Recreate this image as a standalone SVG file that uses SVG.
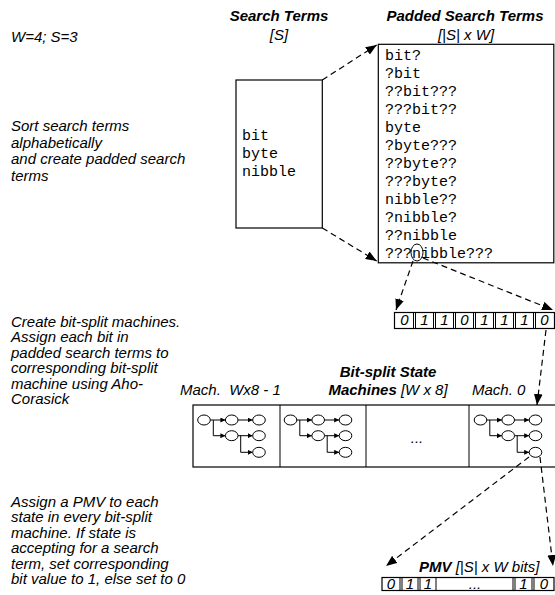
<svg xmlns="http://www.w3.org/2000/svg" width="555" height="595" viewBox="0 0 555 595">
<defs>
<style>
.t{font-family:"Liberation Sans",Arial,sans-serif;font-style:italic;font-size:15px;fill:#000}
.b{font-weight:bold}
.m{font-family:"Liberation Mono","Courier New",monospace;font-size:15px;fill:#000}
.box{fill:#fff;stroke:#000;stroke-width:1.2}
.dash{fill:none;stroke:#000;stroke-width:1.2;stroke-dasharray:6,4}
.st{fill:#fff;stroke:#000;stroke-width:1}
.ln{fill:none;stroke:#000;stroke-width:1}
</style>
<marker id="ah" viewBox="0 0 10 8" refX="10" refY="4" markerWidth="11" markerHeight="9" markerUnits="userSpaceOnUse" orient="auto"><path d="M0,0 L10,4 L0,8 z" fill="#000"/></marker>
<marker id="sa" viewBox="0 0 6 6" refX="6" refY="3" markerWidth="5" markerHeight="5" markerUnits="userSpaceOnUse" orient="auto"><path d="M0,0 L6,3 L0,6 z" fill="#000"/></marker>
<g id="fsm">
<path class="ln" d="M210.3,420 H225.4" marker-end="url(#sa)"/>
<path class="ln" d="M213.3,420 V435.7 H225.4" marker-end="url(#sa)"/>
<path class="ln" d="M238,420 H252.7" marker-end="url(#sa)"/>
<path class="ln" d="M238,435.7 H252.7" marker-end="url(#sa)"/>
<path class="ln" d="M240.7,435.7 V452.3 H252.7" marker-end="url(#sa)"/>
<ellipse class="st" cx="204" cy="420" rx="6.3" ry="5"/>
<ellipse class="st" cx="231.7" cy="420" rx="6.3" ry="5"/>
<ellipse class="st" cx="259" cy="420" rx="6.3" ry="5"/>
<ellipse class="st" cx="231.7" cy="435.7" rx="6.3" ry="5"/>
<ellipse class="st" cx="259" cy="435.7" rx="6.3" ry="5"/>
<ellipse class="st" cx="259" cy="452.3" rx="6.3" ry="5"/>
</g>
</defs>
<rect width="555" height="595" fill="#fff"/>

<g id="notes">
<text class="t" x="11" y="42">W=4; S=3</text>
<text class="t" font-size="16" x="11" y="131">Sort search terms</text>
<text class="t" font-size="16" x="11" y="147.5">alphabetically</text>
<text class="t" font-size="16" x="11" y="164">and create padded search</text>
<text class="t" font-size="16" x="11" y="180.5">terms</text>
<text class="t" x="11" y="326.5">Create bit-split machines.</text>
<text class="t" x="11" y="342">Assign each bit in</text>
<text class="t" x="11" y="357.5">padded search terms to</text>
<text class="t" x="11" y="373">corresponding bit-split</text>
<text class="t" x="11" y="388.5">machine using Aho-</text>
<text class="t" x="11" y="404">Corasick</text>
<text class="t" font-size="16" x="11" y="506.5">Assign a PMV to each</text>
<text class="t" font-size="16" x="11" y="522">state in every bit-split</text>
<text class="t" font-size="16" x="11" y="537.5">machine. If state is</text>
<text class="t" font-size="16" x="11" y="553">accepting for a search</text>
<text class="t" font-size="16" x="11" y="568.5">term, set corresponding</text>
<text class="t" font-size="16" x="11" y="584">bit value to 1, else set to 0</text>
</g>

<g id="search-terms">
<text class="t b" x="279" y="21" text-anchor="middle">Search Terms</text>
<text class="t" x="279" y="40" text-anchor="middle">[S]</text>
<rect class="box" x="236" y="80" width="86.3" height="148"/>
<text class="m" x="242" y="140">bit</text>
<text class="m" x="242" y="158">byte</text>
<text class="m" x="242" y="176">nibble</text>
</g>

<g id="padded-terms">
<text class="t b" x="465" y="21" text-anchor="middle">Padded Search Terms</text>
<text class="t" x="466" y="40" text-anchor="middle">[|S| x W]</text>
<rect class="box" x="378.3" y="44.3" width="175.5" height="218.5"/>
<text class="m" x="385" y="59.5">bit?</text>
<text class="m" x="385" y="77.5">?bit</text>
<text class="m" x="385" y="95.5">??bit???</text>
<text class="m" x="385" y="113.5">???bit??</text>
<text class="m" x="385" y="131.5">byte</text>
<text class="m" x="385" y="149.5">?byte???</text>
<text class="m" x="385" y="167.5">??byte??</text>
<text class="m" x="385" y="185.5">???byte?</text>
<text class="m" x="385" y="203.5">nibble??</text>
<text class="m" x="385" y="221.5">?nibble?</text>
<text class="m" x="385" y="239.5">??nibble</text>
<text class="m" x="385" y="257.5">???nibble???</text>
<ellipse cx="417" cy="252.5" rx="6" ry="8.5" fill="none" stroke="#000" stroke-width="1"/>
</g>

<g id="bit-array">
<rect class="box" x="394.5" y="312.5" width="160" height="16"/>
<path class="ln" d="M413.5,312.5V328.5M415.5,312.5V328.5M433.5,312.5V328.5M435.5,312.5V328.5M453.5,312.5V328.5M455.5,312.5V328.5M473.5,312.5V328.5M475.5,312.5V328.5M493.5,312.5V328.5M495.5,312.5V328.5M513.5,312.5V328.5M515.5,312.5V328.5M533.5,312.5V328.5M535.5,312.5V328.5"/>
<g class="t" text-anchor="middle">
<text x="404.5" y="325">0</text>
<text x="424.5" y="325">1</text>
<text x="444.5" y="325">1</text>
<text x="464.5" y="325">0</text>
<text x="484.5" y="325">1</text>
<text x="504.5" y="325">1</text>
<text x="524.5" y="325">1</text>
<text x="544.5" y="325">0</text>
</g>
</g>

<g id="machines">
<text class="t" x="180" y="395" xml:space="preserve">Mach.  Wx8 - 1</text>
<text class="t b" x="388" y="377" text-anchor="middle">Bit-split State</text>
<text class="t" x="388" y="395" text-anchor="middle"><tspan class="b">Machines</tspan> [W x 8]</text>
<text class="t" x="472" y="395">Mach. 0</text>
<rect class="box" x="193" y="405" width="370" height="62"/>
<path class="ln" d="M280,405V467M366,405V467M469,405V467" stroke-width="1.2"/>
<use href="#fsm"/>
<use href="#fsm" transform="translate(86.5,0)"/>
<use href="#fsm" transform="translate(276.5,0)"/>
<text class="t" x="417" y="443" text-anchor="middle">...</text>
</g>

<g id="pmv">
<text class="t" x="419" y="572"><tspan class="b">PMV</tspan> [|S| x W bits]</text>
<rect class="box" x="382" y="577.5" width="172" height="13"/>
<path class="ln" d="M400,577.5V590.5M402,577.5V590.5M418,577.5V590.5M420,577.5V590.5M436,577.5V590.5M513,577.5V590.5M515,577.5V590.5M532,577.5V590.5M534,577.5V590.5"/>
<g class="t" text-anchor="middle">
<text x="391" y="588.5">0</text>
<text x="410" y="588.5">1</text>
<text x="428" y="588.5">1</text>
<text x="475" y="588.5">...</text>
<text x="523.5" y="588.5">1</text>
<text x="544" y="588.5">0</text>
</g>
</g>

<g id="connectors">
<line class="dash" x1="322.3" y1="80" x2="376.7" y2="45" marker-end="url(#ah)"/>
<line class="dash" x1="322.3" y1="228" x2="376.7" y2="261" marker-end="url(#ah)"/>
<line class="dash" x1="413" y1="261" x2="396" y2="310" marker-end="url(#ah)"/>
<line class="dash" x1="423" y1="258" x2="553" y2="310" marker-end="url(#ah)"/>
<line class="dash" x1="546" y1="330" x2="537" y2="405" marker-end="url(#ah)"/>
<line class="dash" x1="529" y1="457" x2="386" y2="566" marker-end="url(#ah)"/>
<line class="dash" x1="540" y1="457" x2="553" y2="566" marker-end="url(#ah)"/>
</g>
</svg>
